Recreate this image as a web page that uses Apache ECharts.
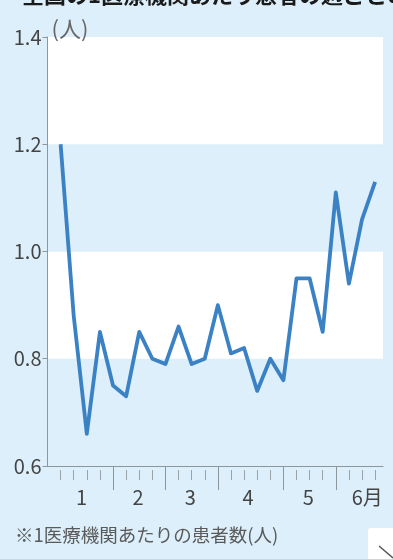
<!DOCTYPE html>
<html>
<head>
<meta charset="utf-8">
<script src="https://cdn.jsdelivr.net/npm/echarts@6/dist/echarts.min.js"></script>
<style>
  html, body { margin: 0; padding: 0; background: #ddeffa; }
  #chart { width: 393px; height: 559px; }
</style>
</head>
<body>
<div id="chart"></div>
<script>
// 週ごとのデータ
const weeks = [1, 2, 3, 4, 5, 6, 7, 8, 9, 10, 11, 12, 13, 14, 15, 16, 17, 18, 19, 20, 21, 22, 23, 24, 25];
const patients = [1.20, 0.88, 0.66, 0.85, 0.75, 0.73, 0.85, 0.80, 0.79, 0.86, 0.79, 0.80, 0.90,
  0.81, 0.82, 0.74, 0.80, 0.76, 0.95, 0.95, 0.85, 1.11, 0.94, 1.06, 1.13];
// 月の区切り（長い目盛）と月ラベル
const monthTicks = [5, 9, 13, 18, 22];
const monthLabelPos = [2.6, 6.9, 10.9, 15.3, 19.9, 24.4];
const monthLabels = ['1', '2', '3', '4', '5', '6月'];
const yLabels = ['0.6', '0.8', '1.0', '1.2', '1.4'];

const FONT = '"Noto Sans CJK JP", "Noto Sans", sans-serif';
const myChart = echarts.init(document.getElementById('chart'));

const option = {
  backgroundColor: '#ddeffa',
  animation: false,
  grid: { left: 47.5, right: 10, top: 37, bottom: 93 },
  xAxis: [
    {
      // 週ごとの短い目盛
      type: 'value',
      min: 0,
      max: 25.6,
      position: 'bottom',
      offset: 4,
      axisLine: { show: false },
      axisTick: {
        show: true,
        customValues: weeks,
        length: 10,
        lineStyle: { color: '#9aa3aa', width: 1 }
      },
      axisLabel: { show: false },
      splitLine: { show: false }
    },
    {
      // 月の区切り（長い目盛）
      type: 'value',
      min: 0,
      max: 25.6,
      position: 'bottom',
      axisLine: { show: true, lineStyle: { color: '#8e969c', width: 1 } },
      axisTick: {
        show: true,
        customValues: monthTicks,
        length: 24,
        lineStyle: { color: '#8e969c', width: 1 }
      },
      axisLabel: {
        customValues: monthLabelPos,
        formatter: (v) => monthLabels[monthLabelPos.indexOf(v)] || '',
        margin: 21,
        fontSize: 20,
        color: '#444',
        fontFamily: FONT
      },
      splitLine: { show: false }
    }
  ],
  yAxis: {
    type: 'value',
    min: 0.6,
    max: 1.4,
    interval: 0.2,
    name: '(人)',
    nameLocation: 'end',
    nameGap: 8,
    nameTextStyle: {
      align: 'left',
      verticalAlign: 'middle',
      padding: [0, 0, 0, 4],
      fontSize: 22,
      color: '#666',
      fontFamily: FONT
    },
    axisLine: { show: true, lineStyle: { color: '#8e969c', width: 1 } },
    axisTick: { show: true, length: 5, lineStyle: { color: '#8e969c' } },
    axisLabel: {
      margin: 6,
      fontSize: 20,
      color: '#444',
      fontFamily: FONT,
      formatter: (v) => yLabels[Math.round((v - 0.6) / 0.2)]
    },
    splitLine: { show: false },
    splitArea: {
      show: true,
      areaStyle: { color: ['#ddeffa', '#ffffff'] }
    }
  },
  series: [
    {
      type: 'line',
      xAxisIndex: 1,
      data: weeks.map((w, i) => [w, patients[i]]),
      symbol: 'none',
      lineStyle: { color: '#3a82c4', width: 3.8, join: 'round' }
    }
  ],
  graphic: [
    {
      // 上部の切れた見出し
      type: 'text',
      left: 22,
      top: -16,
      style: {
        text: '全国の1医療機関あたり患者の週ごとの推移',
        font: 'bold 22px ' + FONT,
        fill: '#1a1a1a'
      }
    },
    {
      type: 'text',
      left: 15,
      top: 526,
      style: {
        text: '※1医療機関あたりの患者数(人)',
        font: '18.5px ' + FONT,
        fill: '#5a5a5a'
      }
    },
    {
      type: 'rect',
      shape: { x: 368, y: 528, width: 40, height: 40, r: 3 },
      style: { fill: '#ffffff' }
    },
    {
      type: 'line',
      shape: { x1: 379, y1: 546, x2: 393, y2: 558 },
      style: { stroke: '#555', lineWidth: 1.5 }
    }
  ]
};

myChart.setOption(option);
</script>
</body>
</html>
